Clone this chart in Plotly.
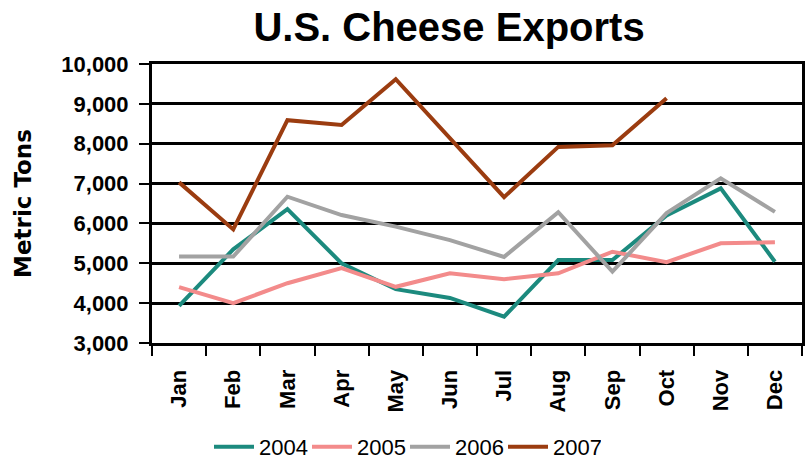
import plotly.graph_objects as go

months = ["Jan", "Feb", "Mar", "Apr", "May", "Jun", "Jul", "Aug", "Sep", "Oct", "Nov", "Dec"]
y2004 = [3930, 5350, 6360, 5000, 4350, 4130, 3660, 5080, 5080, 6200, 6880, 5040]
y2005 = [4400, 4000, 4500, 4880, 4410, 4750, 4600, 4750, 5290, 5030, 5500, 5530]
y2006 = [5170, 5170, 6670, 6210, 5920, 5580, 5160, 6280, 4790, 6260, 7130, 6290]
y2007 = [7030, 5850, 8590, 8470, 9620, 8140, 6660, 7920, 7960, 9140]

series = [
    ("2004", y2004, "#1c8a7e"),
    ("2005", y2005, "#f38b8b"),
    ("2006", y2006, "#a2a2a2"),
    ("2007", y2007, "#9b3c10"),
]

fig = go.Figure()
for name, vals, color in series:
    fig.add_trace(go.Scatter(
        x=months[:len(vals)], y=vals, name=name, mode="lines",
        line=dict(color=color, width=4),
    ))

tick_font = dict(family="Liberation Sans, Arial, sans-serif", size=22, color="black", weight="bold")

W, H = 809, 462

fig.update_layout(
    width=W, height=H,
    margin=dict(l=152, r=7, t=64, b=119, autoexpand=False),
    paper_bgcolor="white", plot_bgcolor="white",
    title=dict(
        text="<b>U.S. Cheese Exports</b>",
        x=449 / W, xanchor="center", y=1 - 27 / H, yanchor="middle", yref="container",
        font=dict(family="Liberation Sans, Arial, sans-serif", size=40, color="black"),
    ),
    showlegend=True,
    legend=dict(
        orientation="h", x=405 / W, xanchor="center", xref="container",
        y=1 - 447 / H, yanchor="middle", yref="container",
        font=dict(family="Liberation Sans, Arial, sans-serif", size=22, color="black"),
        itemwidth=40, tracegroupgap=0, bgcolor="rgba(0,0,0,0)",
        entrywidth=43, entrywidthmode="pixels",
    ),
    xaxis=dict(
        type="category", categoryorder="array", categoryarray=months,
        range=[-0.5, 11.5], tickson="boundaries", automargin=False,
        ticks="outside", ticklen=10, tickwidth=2, tickcolor="black",
        showline=True, linecolor="black", linewidth=3, mirror=True,
        showgrid=False, tickangle=-90, tickfont=tick_font,
        ticklabelstandoff=15,
    ),
    yaxis=dict(
        range=[3000, 10000], dtick=1000, tickformat=",", automargin=False,
        ticks="outside", ticklen=10, tickwidth=2, tickcolor="black",
        showline=True, linecolor="black", linewidth=3, mirror=True,
        showgrid=True, gridcolor="black", gridwidth=3,
        zeroline=False, tickfont=tick_font, ticklabelstandoff=6,
        title=dict(text="<b>Metric Tons</b>", standoff=24,
                   font=dict(family="DejaVu Sans, sans-serif", size=23, color="black")),
    ),
)

fig.write_html("out.html", config={"displayModeBar": False},
               post_script="document.body.style.margin='0';")
